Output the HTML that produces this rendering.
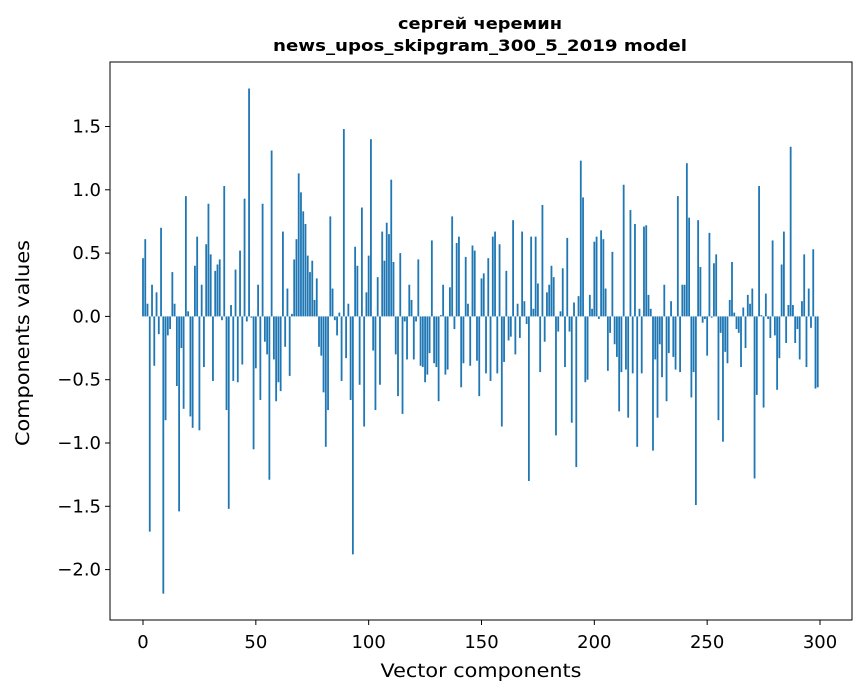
<!DOCTYPE html>
<html><head><meta charset="utf-8">
<style>
html,body{margin:0;padding:0;background:#fff;}
svg{display:block;font-family:"DejaVu Sans",sans-serif;}
</style></head>
<body>
<svg id="chart" width="867" height="696" viewBox="0 0 867 696" xmlns="http://www.w3.org/2000/svg">
<rect width="867" height="696" fill="#fff"/>
<text x="480" y="29" text-anchor="middle" font-size="16" font-weight="bold" textLength="164" lengthAdjust="spacingAndGlyphs">сергей черемин</text>
<text x="480" y="51" text-anchor="middle" font-size="16" font-weight="bold" textLength="414" lengthAdjust="spacingAndGlyphs">news_upos_skipgram_300_5_2019 model</text>
<g id="bars"></g>
<g id="xticks"></g>
<g id="yticks"></g>
<rect x="110" y="62" width="742" height="558" fill="none" stroke="#000" stroke-width="1"/>
<text x="481" y="677" text-anchor="middle" font-size="19" textLength="201" lengthAdjust="spacingAndGlyphs">Vector components</text>
<text x="0" y="0" transform="translate(29,343) rotate(-90)" text-anchor="middle" font-size="19" textLength="206" lengthAdjust="spacingAndGlyphs">Components values</text>
</svg>
<script>
const values = [
0.46,0.61,0.10,-1.70,0.25,-0.39,0.19,-0.14,0.70,-2.19,
-0.82,-0.15,-0.10,0.35,0.10,-0.55,-1.54,-0.25,-0.73,0.95,
0.04,-0.79,-0.88,0.40,0.63,-0.90,0.25,-0.40,0.57,0.89,
0.49,-0.51,0.36,0.41,0.45,-0.03,1.03,-0.74,-1.52,0.09,
-0.51,0.37,-0.52,0.52,-0.38,0.93,-0.04,1.80,-0.01,-1.05,
-0.41,0.25,-0.66,0.89,-0.20,-0.30,-1.29,1.31,-0.34,-0.67,
-0.52,-0.59,0.67,-0.24,0.22,-0.47,0.02,0.45,0.61,1.13,
0.98,0.83,0.73,0.48,0.35,0.44,0.13,0.30,-0.24,-0.31,
-0.60,-1.03,-0.74,0.79,0.22,-0.03,-0.15,0.03,-0.51,1.48,
-0.33,0.10,-0.66,-1.88,0.55,0.40,-0.54,0.86,-0.87,0.19,
0.48,1.40,-0.27,-0.74,0.31,-0.54,0.67,0.44,0.74,0.65,
1.08,0.43,-0.30,-0.63,0.50,-0.77,-0.04,-0.34,0.25,0.13,
-0.34,-0.04,0.45,-0.39,-0.40,-0.52,-0.46,-0.29,0.60,-0.37,
-0.40,-0.67,0.01,0.25,-0.46,-0.42,0.23,0.79,-0.10,0.58,
0.63,-0.56,-0.37,0.47,0.10,-0.39,0.56,0.52,-0.35,-0.63,
0.30,0.34,-0.45,0.46,-0.51,0.63,0.67,-0.45,0.57,-0.87,
-0.36,0.36,-0.19,-0.16,0.76,-0.30,0.10,-0.17,0.67,0.12,
-0.06,-1.30,0.63,0.06,0.63,0.26,-0.44,0.88,-0.20,0.19,
0.25,0.40,0.31,-0.94,-0.12,0.04,0.38,-0.40,0.62,-0.12,
-0.84,0.11,-1.19,0.16,1.23,0.94,-0.52,-0.50,0.17,0.06,
0.59,0.63,-0.02,0.68,0.61,0.22,-0.43,-0.13,0.51,-0.22,
-0.32,-0.75,-0.44,1.04,-0.42,-0.80,0.84,-0.45,0.73,-1.03,
0.06,-0.45,0.71,0.72,0.17,0.06,-1.06,-0.34,-0.80,-0.22,
-0.48,0.25,-0.67,-0.29,0.12,-0.32,-0.42,0.95,-0.44,0.25,
0.25,1.21,0.78,-0.64,-0.44,-1.49,0.76,0.39,-0.05,-0.02,
-0.31,0.66,-0.01,0.42,0.49,-0.82,-0.13,-0.99,-0.28,-0.37,
0.13,0.43,0.03,-0.10,-0.13,-0.40,0.07,-0.25,0.17,0.10,
0.22,-1.28,-0.62,1.03,0.01,-0.72,0.18,-0.02,-0.17,0.60,
-0.15,-0.58,-0.33,0.41,0.67,-0.21,0.09,1.34,0.09,-0.21,
-0.10,-0.34,0.12,0.49,-0.40,0.22,-0.09,0.53,-0.57,-0.56
];
const xTickValues = [0,50,100,150,200,250,300];
const xTickLabels = ["0","50","100","150","200","250","300"];
const yTickValues = [-2.0,-1.5,-1.0,-0.5,0.0,0.5,1.0,1.5];
const yTickLabels = ["\u22122.0","\u22121.5","\u22121.0","\u22120.5","0.0","0.5","1.0","1.5"];

const NS = "http://www.w3.org/2000/svg";
const xScale = v => 143 + v * (677 / 300);
const yScale = v => 316.4 - v * 126.6;
const bw = 0.8 * (677 / 300);

const barsG = document.getElementById('bars');
values.forEach((v, i) => {
  const r = document.createElementNS(NS, 'rect');
  const y0 = yScale(0), y1 = yScale(v);
  r.setAttribute('x', xScale(i) - bw / 2);
  r.setAttribute('y', Math.min(y0, y1));
  r.setAttribute('width', bw);
  r.setAttribute('height', Math.max(Math.abs(y1 - y0), 0.01));
  r.setAttribute('fill', '#1f77b4');
  
  
  barsG.appendChild(r);
});

const xg = document.getElementById('xticks');
xTickValues.forEach((v, i) => {
  const x = xScale(v);
  const l = document.createElementNS(NS, 'line');
  l.setAttribute('x1', x); l.setAttribute('x2', x);
  l.setAttribute('y1', 620); l.setAttribute('y2', 625);
  l.setAttribute('stroke', '#000');
  
  
  xg.appendChild(l);
  const t = document.createElementNS(NS, 'text');
  t.setAttribute('x', x); t.setAttribute('y', 648);
  t.setAttribute('text-anchor', 'middle');
  t.setAttribute('font-size', '18');
  t.textContent = xTickLabels[i];
  
  
  xg.appendChild(t);
});

const yg = document.getElementById('yticks');
yTickValues.forEach((v, i) => {
  const y = yScale(v);
  const l = document.createElementNS(NS, 'line');
  l.setAttribute('x1', 105); l.setAttribute('x2', 110);
  l.setAttribute('y1', y); l.setAttribute('y2', y);
  l.setAttribute('stroke', '#000');
  
  
  yg.appendChild(l);
  const t = document.createElementNS(NS, 'text');
  t.setAttribute('x', 101); t.setAttribute('y', y + 6);
  t.setAttribute('text-anchor', 'end');
  t.setAttribute('font-size', '18');
  t.textContent = yTickLabels[i];
  
  
  yg.appendChild(t);
});
</script>
</body></html>
